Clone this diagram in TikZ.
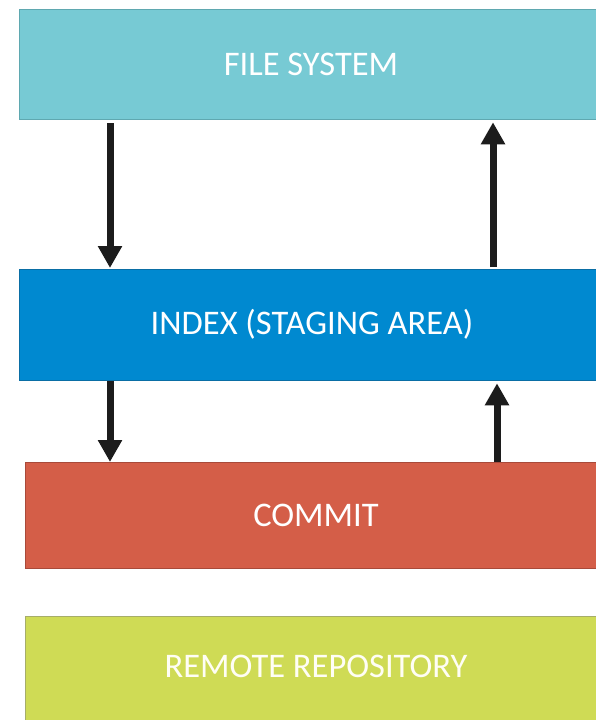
\documentclass[tikz,border=0pt]{standalone}
\usepackage{fontspec}
\setmainfont{Carlito}
\usetikzlibrary{arrows.meta}
\definecolor{fsfill}{HTML}{77CAD4}
\definecolor{fsline}{HTML}{5FA8B0}
\definecolor{ixfill}{HTML}{0089D0}
\definecolor{ixline}{HTML}{0A6EA5}
\definecolor{cmfill}{HTML}{D45E48}
\definecolor{cmline}{HTML}{A84A3A}
\definecolor{rrfill}{HTML}{CFDB55}
\definecolor{rrline}{HTML}{A6AD6A}
\definecolor{arrowc}{HTML}{1C1C1C}
\tikzset{
  layerbox/.style={rectangle, inner sep=0pt, line width=1.3pt, anchor=north west,
    minimum width=700pt},
  layertext/.style={text=white, font=\fontsize{34.5}{41}\selectfont},
  flow/.style={draw=arrowc, line width=7pt, -{Triangle[length=22pt,width=23pt]}}
}
\begin{document}
\begin{tikzpicture}[x=1pt,y=-1pt]
\useasboundingbox (0,0) rectangle (596,720);
\fill[white] (0,0) rectangle (596,720);
% boxes
\node[layerbox, fill=fsfill, draw=fsline, minimum height=110pt] (fs) at (19,9) {};
\node[layertext] (fst) at (311,64) {FILE SYSTEM};
\node[layerbox, fill=ixfill, draw=ixline, minimum height=111pt] (ix) at (19,269) {};
\node[layertext] (ixt) at (312,324) {INDEX (STAGING AREA)};
\node[layerbox, fill=cmfill, draw=cmline, minimum height=106pt] (cm) at (25,462) {};
\node[layertext] (cmt) at (316,515) {COMMIT};
\node[layerbox, fill=rrfill, draw=rrline, minimum height=120pt] (rr) at (25,616) {};
\node[layertext, text=white!96!yellow] (rrt) at (316,666) {REMOTE REPOSITORY};
% arrow columns
\coordinate (la) at (110,0);
\coordinate (ra) at (493,0);
\coordinate (rb) at (497,0);
\draw[flow, shorten <=3pt, shorten >=1pt] (fs.south -| la) -- (ix.north -| la);
\draw[flow, shorten <=2pt, shorten >=2pt] (ix.north -| ra) -- (fs.south -| ra);
\draw[flow, shorten >=0pt] (ix.south -| la) -- (cm.north -| la);
\draw[flow, shorten >=2pt] (cm.north -| rb) -- (ix.south -| rb);
\end{tikzpicture}
\end{document}
